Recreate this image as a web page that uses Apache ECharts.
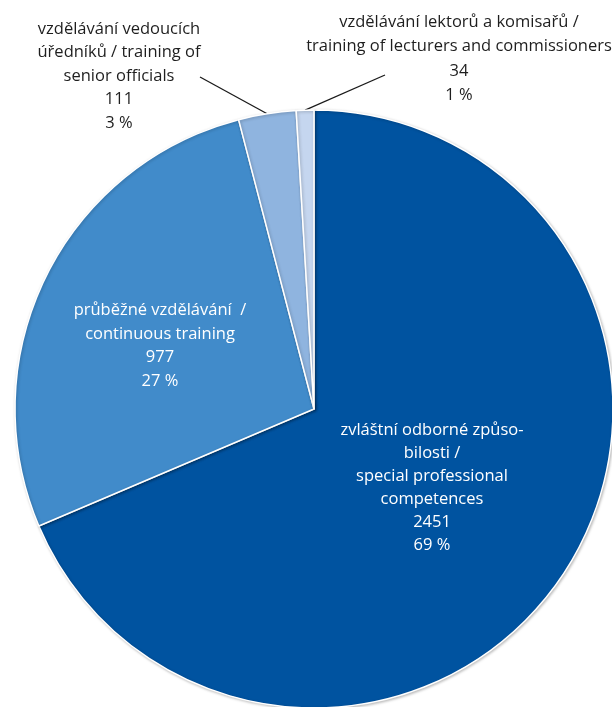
<!DOCTYPE html>
<html>
<head>
<meta charset="utf-8">
<script src="https://cdn.jsdelivr.net/npm/echarts@6/dist/echarts.min.js"></script>
<style>
html,body{margin:0;padding:0;background:#fff;}
#chart{width:612px;height:707px;}
</style>
</head>
<body>
<div id="chart"></div>
<script>
const categories = [
  'zvláštní odborné způso-\nbilosti /\nspecial professional\ncompetences',
  'průběžné vzdělávání  /\ncontinuous training',
  'vzdělávání vedoucích\núředníků / training of\nsenior officials',
  'vzdělávání lektorů a komisařů /\ntraining of lecturers and commissioners'
];
const values = [2451, 977, 111, 34];
const colors = ['#0053a0', '#418bca', '#8fb4df', '#c5d6ef'];
const labelColors = ['#ffffff', '#ffffff', '#1e1e1e', '#1e1e1e'];

// label placement (layout only)
const labelPos = [
  { x: 432, y: 488, va: 'middle', lh: 23 },
  { x: 160, y: 346, va: 'middle', lh: 23.5 },
  { x: 119, y: 76, va: 'middle', lh: 23.5 },
  { x: 459, y: 59, va: 'middle', lh: 24.5 }
];
const lineEndOffset = [null, null, [81, 1], [-74, 16]];

const chart = echarts.init(document.getElementById('chart'));
chart.setOption({
  animation: false,
  series: [{
    type: 'pie',
    center: [314, 409],
    radius: [0, 299],
    startAngle: 90,
    clockwise: true,
    percentPrecision: 0,
    avoidLabelOverlap: false,
    data: values.map((v, i) => ({
      name: categories[i],
      value: v,
      itemStyle: { color: colors[i] },
      label: {
        position: i < 2 ? 'inside' : 'outside',
        color: labelColors[i],
        lineHeight: labelPos[i].lh
      },
      labelLine: { show: i >= 2, length: 20, length2: 0, lineStyle: { color: '#1a1a1a', width: 1.3 } }
    })),
    itemStyle: {
      borderColor: '#ffffff',
      borderWidth: 1.5,
      shadowBlur: 3,
      shadowColor: 'rgba(0,0,0,0.25)',
      shadowOffsetX: 1,
      shadowOffsetY: 1
    },
    label: {
      formatter: '{b}\n{c}\n{d} %',
      fontFamily: 'Open Sans',
      fontSize: 16.5,
      lineHeight: 23,
      align: 'center'
    },
    labelLayout: function (params) {
      const i = params.dataIndex;
      const p = labelPos[i];
      const res = { x: p.x, y: p.y, align: 'center', verticalAlign: p.va };
      if (lineEndOffset[i] && params.labelLinePoints) {
        const start = params.labelLinePoints[0];
        const end = [p.x + lineEndOffset[i][0], p.y + lineEndOffset[i][1]];
        res.labelLinePoints = [start, end, end];
      }
      return res;
    },
    emphasis: { disabled: true }
  }]
});
</script>
</body>
</html>
